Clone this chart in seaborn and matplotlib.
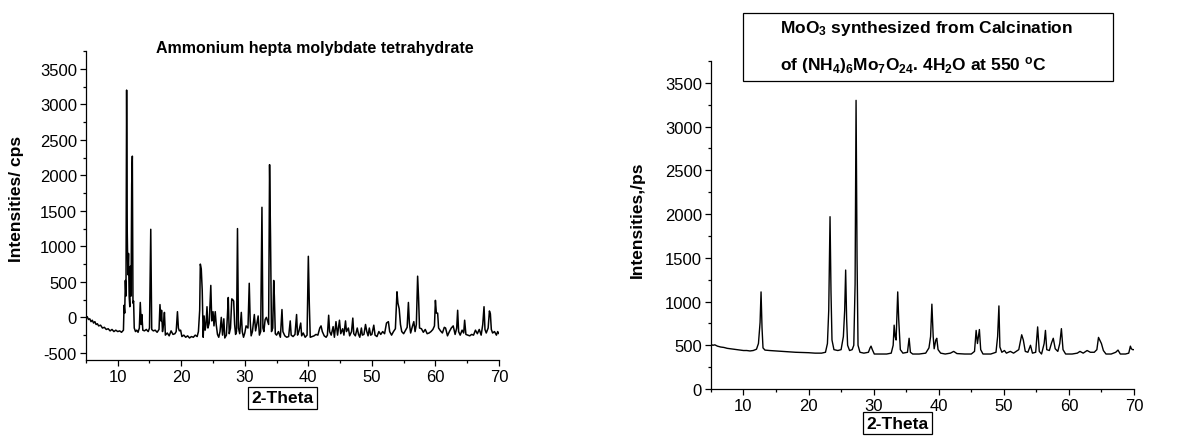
import matplotlib as mpl

mpl.use('Agg')
import matplotlib.pyplot as plt
import seaborn as sns
from matplotlib.patches import Rectangle
from matplotlib.ticker import MultipleLocator

# ammonium hepta molybdate tetrahydrate pattern (2-theta, cps)
theta_ahm = [
    5.0, 5.2, 5.4, 5.6, 5.8, 6.0, 6.2, 6.4, 6.6, 6.8, 7.0, 7.3, 7.6, 7.9,
    8.2, 8.5, 8.8, 9.1, 9.4, 9.7, 10.0, 10.3, 10.6, 10.9, 11.0, 11.1, 11.2,
    11.3, 11.4, 11.5, 11.6, 11.7, 11.8, 11.9, 12.0, 12.1, 12.2, 12.3, 12.4,
    12.5, 12.6, 12.8, 13.0, 13.2, 13.4, 13.55, 13.7, 13.8, 13.95, 14.2,
    14.5, 14.8, 15.0, 15.2, 15.35, 15.6, 15.9, 16.2, 16.5, 16.65, 16.8,
    16.9, 17.05, 17.2, 17.35, 17.5, 17.8, 18.1, 18.4, 18.7, 19.0, 19.2,
    19.4, 19.55, 19.7, 19.9, 20.1, 20.4, 20.7, 21.0, 21.3, 21.6, 21.9,
    22.2, 22.5, 22.7, 22.9, 23.0, 23.15, 23.3, 23.45, 23.6, 23.75, 23.9,
    24.05, 24.2, 24.4, 24.65, 24.8, 25.0, 25.15, 25.35, 25.5, 25.7, 25.9,
    26.1, 26.3, 26.5, 26.7, 26.85, 27.1, 27.25, 27.4, 27.55, 27.75, 27.95,
    28.1, 28.25, 28.4, 28.55, 28.7, 28.85, 29.0, 29.2, 29.45, 29.6, 29.8,
    30.0, 30.2, 30.5, 30.7, 30.85, 31.0, 31.2, 31.5, 31.7, 31.9, 32.1,
    32.3, 32.5, 32.7, 32.85, 33.0, 33.2, 33.4, 33.6, 33.75, 33.9, 34.05,
    34.2, 34.4, 34.55, 34.65, 34.8, 35.0, 35.3, 35.6, 35.85, 36.0, 36.3,
    36.6, 36.9, 37.15, 37.3, 37.6, 37.9, 38.15, 38.3, 38.5, 38.8, 38.95,
    39.2, 39.5, 39.8, 40.0, 40.15, 40.3, 40.6, 40.9, 41.2, 41.5, 41.8,
    42.0, 42.2, 42.5, 42.8, 43.0, 43.2, 43.35, 43.6, 43.9, 44.1, 44.35,
    44.6, 44.9, 45.1, 45.4, 45.6, 45.85, 46.0, 46.3, 46.5, 46.8, 47.0,
    47.15, 47.4, 47.7, 47.9, 48.1, 48.35, 48.5, 48.75, 49.0, 49.2, 49.4,
    49.6, 49.8, 50.0, 50.3, 50.5, 50.8, 51.1, 51.4, 51.7, 52.0, 52.3,
    52.6, 52.8, 53.1, 53.4, 53.7, 53.95, 54.1, 54.3, 54.5, 54.7, 55.0,
    55.3, 55.55, 55.75, 55.9, 56.1, 56.4, 56.6, 56.8, 57.0, 57.2, 57.35,
    57.5, 57.8, 58.1, 58.4, 58.7, 59.0, 59.3, 59.6, 59.85, 60.0, 60.15,
    60.35, 60.5, 60.8, 61.1, 61.4, 61.6, 61.9, 62.2, 62.5, 62.8, 63.1,
    63.35, 63.5, 63.65, 63.9, 64.2, 64.45, 64.6, 64.8, 65.1, 65.4, 65.7,
    66.0, 66.3, 66.6, 66.9, 67.2, 67.45, 67.65, 67.8, 68.0, 68.3, 68.5,
    68.65, 68.8, 69.0, 69.3, 69.6, 69.8, 70.0,
]
cps_ahm = [
    -20, 10, -30, -20, -60, -40, -80, -60, -100, -90, -120, -110, -150, -140,
    -170, -160, -190, -170, -200, -180, -200, -190, -210, -180, 170, 60, 520,
    300, 3200, 1200, 600, 900, 300, 150, 720, 300, 1870, 2270, 200,
    230, -150, -200, -180, -210, -150, 210, -100, 40, -180, -190,
    -170, -200, -150, 1240, -170, -190, -180, -210, -170, 180, -50,
    100, -200, -100, 70, -250, -220, -260, -190, -240, -230, -200,
    80, -150, -190, -180, -270, -250, -280, -260, -290, -270, -280,
    -250, -270, -200, 100, 750, 680, 380, -280, 20, -180, -100,
    150, -150, -80, 450, -50, 80, -120, 80, -100, -240, -280,
    -200, 0, -250, -20, -290, -250, 0, 280, -230, -150, 260,
    250, 230, -100, -240, -200, 1250, -150, -230, 70, -200, -280,
    -220, -120, -150, 480, -50, -260, -200, 40, -190, -90, 20,
    -250, -200, 1550, -150, -200, -30, 0, -60, -100, 2150, 1130,
    -200, -150, 520, 300, -230, -250, -200, -280, 110, -200, -260,
    -280, -270, -50, -250, -270, -240, 40, -250, -200, -80, -260,
    -220, -280, -250, 860, 200, -280, -270, -260, -240, -250, -150,
    -120, -200, -260, -280, -250, 30, -200, -250, -130, -280, -60,
    -250, -40, -230, -160, -250, -50, -200, -150, -260, -200, -10,
    -230, -260, -150, -240, -280, -150, -250, -240, -100, -200, -260,
    -150, -250, -240, -110, -250, -270, -200, -240, -200, -230, -80,
    -60, -200, -250, -200, -160, 360, 200, 120, -100, -200, -230,
    -180, -140, 210, -80, -220, -120, -60, -200, -100, 580, 270,
    -150, -160, -210, -170, -230, -220, -200, -170, -120, 240, 60,
    60, -150, -190, -220, -140, -150, -260, -200, -150, -120, -240,
    -150, 100, -200, -250, -180, -220, -40, -240, -250, -260, -240,
    -250, -180, -230, -170, -250, -100, 150, -170, -220, -150, 90,
    50, -170, -220, -200, -250, -200, -230,
]

# MoO3 after calcination at 550 C (2-theta, cps)
theta_moo3 = [
    5.0, 5.3, 5.6, 6.0, 6.5, 7.0, 7.5, 8.0, 8.5, 9.0, 9.5, 10.0, 10.5,
    11.0, 11.5, 12.0, 12.3, 12.55, 12.7, 12.85, 13.0, 13.3, 14.0, 15.0,
    16.0, 17.0, 18.0, 19.0, 20.0, 21.0, 22.0, 22.6, 22.9, 23.1, 23.3,
    23.45, 23.6, 23.9, 24.5, 25.0, 25.35, 25.55, 25.7, 25.85, 26.0, 26.3,
    26.7, 26.95, 27.15, 27.3, 27.45, 27.6, 27.9, 28.5, 29.2, 29.45, 29.6,
    29.8, 30.1, 31.0, 32.0, 32.7, 33.0, 33.15, 33.3, 33.45, 33.7, 33.85,
    34.1, 34.5, 35.2, 35.45, 35.65, 36.0, 37.0, 38.0, 38.5, 38.75, 38.95,
    39.15, 39.3, 39.55, 39.7, 39.9, 40.3, 41.0, 41.8, 42.3, 42.8, 44.0,
    45.0, 45.5, 45.75, 45.95, 46.25, 46.45, 46.8, 48.0, 48.8, 49.05, 49.25,
    49.4, 49.7, 50.1, 50.4, 51.0, 51.5, 52.3, 52.75, 53.0, 53.3, 53.7,
    54.1, 54.4, 54.9, 55.2, 55.45, 55.8, 56.2, 56.4, 56.6, 57.0, 57.35,
    57.6, 57.9, 58.3, 58.6, 58.85, 59.1, 59.5, 60.5, 61.3, 61.7, 62.2,
    62.8, 63.3, 63.9, 64.3, 64.55, 64.8, 65.0, 65.3, 65.7, 66.5, 67.2,
    67.55, 67.9, 68.7, 69.2, 69.45, 69.6, 69.8, 70.0,
]
cps_moo3 = [
    510, 500, 505, 490, 480, 475, 465, 460, 455, 450, 445, 440, 440,
    435, 440, 455, 520, 760, 1110, 700, 470, 445, 440, 435,
    430, 425, 420, 418, 415, 410, 410, 420, 520, 900, 1970,
    1100, 560, 450, 440, 450, 600, 900, 1360, 800, 500, 440,
    450, 500, 1200, 3300, 1500, 500, 420, 410, 420, 470, 490,
    450, 400, 400, 400, 410, 500, 730, 600, 560, 1110, 800,
    450, 410, 420, 580, 420, 400, 400, 410, 470, 600, 970,
    600, 460, 560, 580, 450, 410, 400, 410, 430, 405, 400,
    400, 430, 670, 520, 680, 450, 400, 400, 420, 600, 950,
    480, 420, 440, 410, 430, 410, 450, 620, 560, 430, 420,
    500, 410, 420, 710, 430, 400, 520, 670, 450, 440, 530,
    580, 460, 430, 520, 690, 450, 400, 400, 410, 430, 410,
    440, 420, 420, 450, 590, 550, 520, 440, 400, 400, 420,
    445, 400, 400, 410, 490, 460, 450, 450,
]

sns.set_style('ticks')
plt.rcParams['font.family'] = ['Liberation Sans', 'DejaVu Sans']
plt.rcParams['text.color'] = 'black'
plt.rcParams['axes.labelcolor'] = 'black'
plt.rcParams['axes.unicode_minus'] = False
plt.rcParams['mathtext.fontset'] = 'custom'
plt.rcParams['mathtext.rm'] = 'Liberation Sans'
plt.rcParams['mathtext.bf'] = 'Liberation Sans:bold'
plt.rcParams['mathtext.default'] = 'bf'

fig = plt.figure(figsize=(11.79, 4.39), dpi=100)
ax1 = fig.add_axes([0.0729, 0.1777, 0.3503, 0.7038])
ax2 = fig.add_axes([0.603, 0.1116, 0.3588, 0.7472])

sns.lineplot(x=theta_ahm, y=cps_ahm, ax=ax1, color='black', lw=1.1,
             estimator=None, sort=False)
sns.lineplot(x=theta_moo3, y=cps_moo3, ax=ax2, color='black', lw=1.0,
             estimator=None, sort=False)

box = dict(boxstyle='square,pad=0.2', fc='white', ec='black', lw=0.9)

for ax, ylim in ((ax1, (-600, 3750)), (ax2, (0, 3750))):
    ax.set_xlim(5, 70)
    ax.set_ylim(*ylim)
    ax.xaxis.set_major_locator(MultipleLocator(10))
    ax.xaxis.set_minor_locator(MultipleLocator(5))
    ax.yaxis.set_major_locator(MultipleLocator(500))
    ax.yaxis.set_minor_locator(MultipleLocator(250))
    ax.tick_params(which='major', direction='out', length=4.5, width=0.9,
                   labelsize=12, color='black', labelcolor='black', pad=2)
    ax.tick_params(which='minor', direction='out', length=2.5, width=0.9,
                   color='black')
    ax.spines['right'].set_color('none')
    ax.spines['top'].set_color('none')
    for s in ('left', 'bottom'):
        ax.spines[s].set_linewidth(0.9)
        ax.spines[s].set_color('black')

ax1.set_xlabel('2-Theta', fontsize=12.5, fontweight='bold', va='center',
               bbox=box)
ax1.xaxis.set_label_coords(0.475, -0.123)
ax1.set_ylabel('Intensities/ cps', fontsize=12.5, fontweight='bold')
ax1.yaxis.set_label_coords(-0.150, 0.524)
ax1.text(0.554, 1.01, 'Ammonium hepta molybdate tetrahydrate',
         transform=ax1.transAxes, ha='center', va='center', fontsize=11.5,
         fontweight='bold')

ax2.set_xlabel('2-Theta', fontsize=12.5, fontweight='bold', va='center',
               bbox=box)
ax2.xaxis.set_label_coords(0.44, -0.104)
ax2.set_ylabel('Intensities,/ps', fontsize=12.5, fontweight='bold')
ax2.yaxis.set_label_coords(-0.156, 0.518)

# title box of the right panel
fig.patches.append(Rectangle((742.7 / 1179, 1 - 82 / 439), 370 / 1179,
                             68 / 439, transform=fig.transFigure,
                             fc='white', ec='black', lw=0.9))
fig.text(780 / 1179, 1 - 29 / 439, 'MoO$_3$ synthesized from Calcination',
         ha='left', va='center', fontsize=12.5, fontweight='bold')
fig.text(780 / 1179, 1 - 65 / 439,
         'of (NH$_4$)$_6$Mo$_7$O$_{24}$. 4H$_2$O at 550 $^o$C',
         ha='left', va='center', fontsize=12.5, fontweight='bold')

plt.savefig('out.png', dpi=100)
